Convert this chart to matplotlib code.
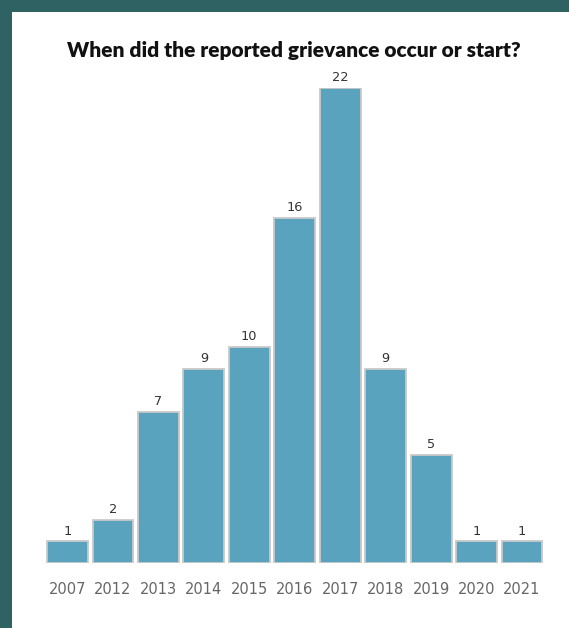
import matplotlib
matplotlib.use("Agg")
import matplotlib.pyplot as plt
from matplotlib.patches import Rectangle

years = ["2007", "2012", "2013", "2014", "2015", "2016", "2017", "2018", "2019", "2020", "2021"]
counts = [1, 2, 7, 9, 10, 16, 22, 9, 5, 1, 1]
title = "When did the reported grievance occur or start?"

W, H = 569, 628
fig = plt.figure(figsize=(W / 100, H / 100), dpi=100)
fig.patch.set_facecolor("#2f6262")
fig.add_artist(Rectangle((12 / W, 0), 1 - 12 / W, 1 - 12 / H, transform=fig.transFigure,
                         facecolor="white", edgecolor="none", zorder=0))

left = 44.8 / W
width = 499.9 / W
bottom = (H - 563) / H
height = 475 / H
ax = fig.add_axes([left, bottom, width, height])
ax.set_facecolor("none")

x = range(len(years))
bars = ax.bar(x, counts, width=0.9, color="#5aa3be", edgecolor="#c9c9c9", linewidth=1.3)
ax.set_xlim(-0.5, len(years) - 0.5)
ax.set_ylim(0, 22)
for xi, c in zip(x, counts):
    ax.annotate(str(c), (xi, c), xytext=(0, 2.8), textcoords="offset points",
                ha="center", va="bottom", fontsize=9.3, color="#333333",
                family="DejaVu Sans", annotation_clip=False)

ax.set_xticks(list(x))
ax.set_xticklabels(years, fontsize=10.5, color="#666666", family="DejaVu Sans")
ax.tick_params(axis="x", length=0, pad=14)
ax.set_yticks([])
for s in ax.spines.values():
    s.set_visible(False)

fig.text(294 / W, 1 - 50 / H, title, ha="center", va="center", fontsize=15,
         fontweight="heavy", family="Lato", color="#111111")

fig.savefig("out.png", dpi=100, facecolor=fig.get_facecolor())
